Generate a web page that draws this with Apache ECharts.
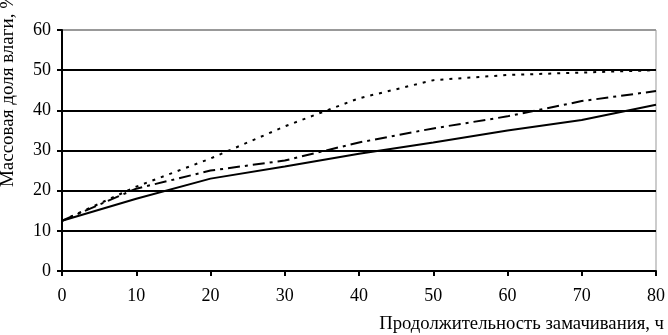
<!DOCTYPE html>
<html><head><meta charset="utf-8">
<script src="https://cdn.jsdelivr.net/npm/echarts@6/dist/echarts.min.js"></script>
<style>html,body{margin:0;padding:0;background:#fff}#c{width:668px;height:335px}</style>
</head><body><div id="c"></div>
<script>
const hours = [0, 10, 20, 30, 40, 50, 60, 70, 80];
const solidSeries = [12.5, 18, 23, 26, 29.2, 32, 35, 37.6, 41.4];
const dashDotSeries = [12.5, 20.5, 25, 27.5, 32, 35.5, 38.5, 42.3, 44.8];
const dottedSeries = [12.5, 21, 28, 36, 43, 47.5, 48.8, 49.4, 50];
const yName = 'Массовая доля влаги, %';
const xName = 'Продолжительность замачивания, ч';

const font = 'Liberation Serif';
const chart = echarts.init(document.getElementById('c'));
const pairs = arr => hours.map((h, i) => [h, arr[i]]);
chart.setOption({
  animation: false,
  grid: {left: 62, right: 8, top: 30, bottom: 64, show: true, borderColor: '#999', borderWidth: 1},
  xAxis: {
    type: 'value', min: 0, max: 80, interval: 10,
    axisLine: {show: true, onZero: false, lineStyle: {color: '#000', width: 2}},
    axisTick: {show: true, length: 5, lineStyle: {color: '#000', width: 2}},
    axisLabel: {color: '#000', fontFamily: font, fontSize: 18, margin: 16},
    splitLine: {show: false}
  },
  yAxis: {
    type: 'value', min: 0, max: 60, interval: 10,
    axisLine: {show: true, lineStyle: {color: '#000', width: 2}},
    axisTick: {show: true, length: 5, lineStyle: {color: '#000', width: 2}},
    axisLabel: {color: '#000', fontFamily: font, fontSize: 18, margin: 11},
    splitLine: {show: true, lineStyle: {color: ['#000', '#000', '#000', '#000', '#000', '#000', '#999'], width: 2}}
  },
  graphic: [{
    type: 'text', x: -1, y: 90, rotation: Math.PI / 2,
    style: {text: yName, fill: '#000', font: '19px "Liberation Serif"', align: 'center', verticalAlign: 'top'}
  }, {
    type: 'text', x: 664, y: 315,
    style: {text: xName, fill: '#000', font: '18.7px "Liberation Serif"', align: 'right', verticalAlign: 'top'}
  }],
  series: [
    {type: 'line', data: pairs(solidSeries), symbol: 'none', lineStyle: {color: '#000', width: 2, type: 'solid'}},
    {type: 'line', data: pairs(dashDotSeries), symbol: 'none', lineStyle: {color: '#000', width: 2, type: [12, 5, 3, 5]}},
    {type: 'line', data: pairs(dottedSeries), symbol: 'none', lineStyle: {color: '#000', width: 2, type: [3, 6]}}
  ]
});
</script></body></html>
